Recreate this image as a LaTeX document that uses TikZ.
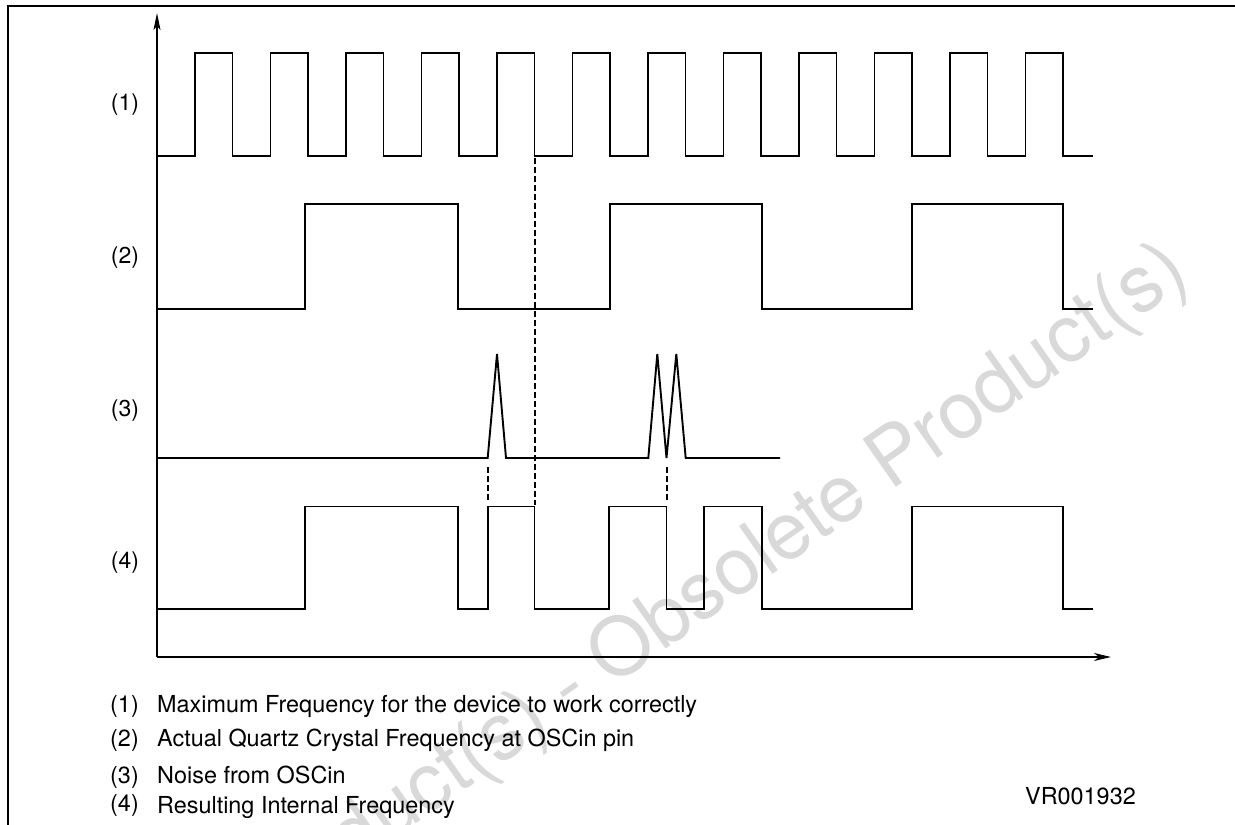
\documentclass[tikz,border=0pt]{standalone}
\usepackage{fontspec}
\setmainfont{TeX Gyre Heros}
\usetikzlibrary{arrows.meta}
\definecolor{wmgray}{HTML}{D9D9D9}
\tikzset{
  wave/.style={line width=1.9pt, line join=miter},
  axisline/.style={line width=1.9pt},
  guide/.style={line width=2pt, dash pattern=on 5.5pt off 3.5pt},
  lbl/.style={font=\fontsize{23}{27}\selectfont, inner sep=0pt},
  leg/.style={font=\fontsize{23.4}{27}\selectfont, inner sep=0pt, anchor=base west},
  wm/.style={font=\fontsize{80}{90}\selectfont, text=wmgray, inner sep=0pt, rotate=35}
}
\begin{document}
\begin{tikzpicture}[x=1pt,y=-1pt]
\useasboundingbox (0,0) rectangle (1235,825);
% watermark
\node[wm] (wmark) at (570,690) {Obsolete Product(s) - Obsolete Product(s)};
% frame
\draw[line width=2pt] (7.5,825) -- (7.5,6) -- (1235,6);
% axes
\coordinate (origin) at (157,657);
\coordinate (ytip) at (157,13);
\coordinate (xtip) at (1111,657);
\draw[axisline, -{Stealth[length=17pt,width=7pt,inset=4pt]}] (origin) -- (ytip);
\draw[axisline, -{Stealth[length=17pt,width=8pt,inset=5pt]}] (origin) -- (xtip);
% wave 1
\draw[wave] (157,156) foreach \k in {0,...,11} { -- ({195+75.5*\k},156) -- ({195+75.5*\k},53) -- ({232.5+75.5*\k},53) -- ({232.5+75.5*\k},156) } -- (1093,156);
% wave 2
\draw[wave] (157,309) -- (305,309) -- (305,204) -- (458,204) -- (458,309) -- (610,309) -- (610,204) -- (762,204) -- (762,309) -- (912,309) -- (912,204) -- (1063,204) -- (1063,309) -- (1093,309);
% wave 3
\draw[wave] (157,458) -- (487.7,458) -- (497,354) -- (506,458) -- (648.3,458) -- (657.3,354) -- (666.5,458) -- (676.3,354) -- (685.7,458) -- (780,458);
% wave 4
\draw[wave] (157,609) -- (305,609) -- (305,506.5) -- (458,506.5) -- (458,609) -- (487.7,609) -- (487.7,506.5) -- (534.5,506.5) -- (534.5,609) -- (609.3,609) -- (609.3,506.5) -- (666.5,506.5) -- (666.5,609) -- (703.7,609) -- (703.7,506.5) -- (762,506.5) -- (762,609) -- (912,609) -- (912,506.5) -- (1063,506.5) -- (1063,609) -- (1093,609);
% guides
\coordinate (g1a) at (534.5,158); \coordinate (g1b) at (534.5,505);
\coordinate (g2a) at (487.7,467); \coordinate (g2b) at (487.7,500);
\coordinate (g3a) at (666.5,467); \coordinate (g3b) at (666.5,500);
\draw[guide] (g1a) -- (g1b);
\draw[guide] (g2a) -- (g2b);
\draw[guide] (g3a) -- (g3b);
% labels
\node[lbl] (l1) at (125,105) {(1)};
\node[lbl] (l2) at (125,258) {(2)};
\node[lbl] (l3) at (125,411) {(3)};
\node[lbl] (l4) at (125,563) {(4)};
% legend
\node[leg] (n1) at (110,712.7) {(1)};
\node[leg] (t1) at (157,712.7) {Maximum Frequency for the device to work correctly};
\node[leg] (n2) at (110,746.7) {(2)};
\node[leg] (t2) at (157,746.7) {Actual Quartz Crystal Frequency at OSCin pin};
\node[leg] (n3) at (110,783.3) {(3)};
\node[leg] (t3) at (157,783.3) {Noise from OSCin};
\node[leg] (n4) at (110,811.5) {(4)};
\node[leg] (t4) at (157,813.3) {Resulting Internal Frequency};
\node[leg] (code) at (1025,804) {VR001932};
\end{tikzpicture}
\end{document}
